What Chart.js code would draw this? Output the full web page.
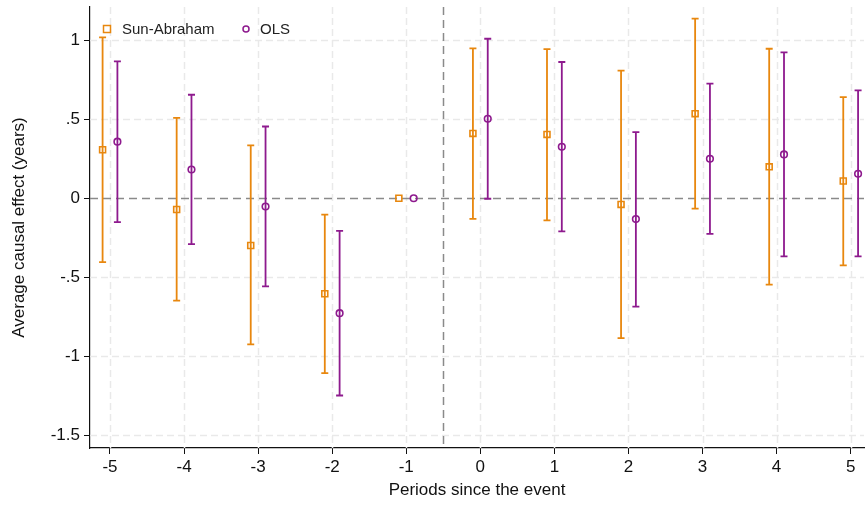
<!DOCTYPE html>
<html>
<head>
<meta charset="utf-8">
<script src="https://cdn.jsdelivr.net/npm/chart.js@4.4.0/dist/chart.umd.min.js"></script>
<style>
  html, body { margin: 0; padding: 0; background: #ffffff; }
  #wrap { width: 865px; height: 506px; }
</style>
</head>
<body>
<div id="wrap"><canvas id="c" width="865" height="506"></canvas></div>
<script>
const periods = [-5, -4, -3, -2, -1, 0, 1, 2, 3, 4, 5];
const saEst = [0.307, -0.071, -0.299, -0.604, 0, 0.410, 0.404, -0.039, 0.535, 0.199, 0.109];
const saLo  = [-0.404, -0.647, -0.925, -1.106, null, -0.130, -0.140, -0.885, -0.066, -0.547, -0.425];
const saHi  = [1.018, 0.509, 0.334, -0.104, null, 0.948, 0.944, 0.807, 1.136, 0.946, 0.640];
const olsEst = [0.358, 0.182, -0.052, -0.727, 0, 0.503, 0.326, -0.132, 0.250, 0.277, 0.155];
const olsLo  = [-0.151, -0.290, -0.558, -1.248, null, -0.003, -0.210, -0.685, -0.225, -0.368, -0.368];
const olsHi  = [0.866, 0.655, 0.454, -0.206, null, 1.009, 0.862, 0.419, 0.725, 0.923, 0.682];
const xTicks = [-5, -4, -3, -2, -1, 0, 1, 2, 3, 4, 5];
const yTicks = [-1.5, -1, -0.5, 0, 0.5, 1];
const yTickLabels = ['-1.5', '-1', '-.5', '0', '.5', '1'];
const seriesNames = ['Sun-Abraham', 'OLS'];
const shift = 0.1;
const eventLine = -0.5;

const ORANGE = '#e8870e';
const PURPLE = '#8e1a8e';
const FONT = '"Liberation Sans", Arial, sans-serif';

function pts(est, lo, hi, dx) {
  return periods.map((p, i) => ({ x: p + dx, y: est[i], lo: lo[i], hi: hi[i] }));
}

function noPad(s) {
  s.paddingLeft = 0; s.paddingRight = 0; s.paddingTop = 0; s.paddingBottom = 0;
}

const gridPlugin = {
  id: 'gridPlugin',
  beforeDatasetsDraw(chart) {
    const { ctx, chartArea: a, scales: { x, y } } = chart;
    ctx.save();
    ctx.beginPath();
    ctx.rect(a.left, a.top, a.right - a.left, a.bottom - a.top);
    ctx.clip();
    ctx.strokeStyle = '#e9e9e9';
    ctx.lineWidth = 1.5;
    ctx.setLineDash([7, 4]);
    xTicks.forEach(v => {
      const px = Math.round(x.getPixelForValue(v)) + 0.5;
      ctx.beginPath(); ctx.moveTo(px, a.top); ctx.lineTo(px, a.bottom); ctx.stroke();
    });
    yTicks.forEach(v => {
      if (v === 0) return;
      const py = Math.round(y.getPixelForValue(v)) + 0.5;
      ctx.beginPath(); ctx.moveTo(a.left, py); ctx.lineTo(a.right, py); ctx.stroke();
    });
    ctx.strokeStyle = '#8a8a8a';
    ctx.lineWidth = 1.5;
    ctx.setLineDash([8, 5]);
    const y0 = Math.round(y.getPixelForValue(0)) + 0.5;
    ctx.beginPath(); ctx.moveTo(a.left, y0); ctx.lineTo(a.right, y0); ctx.stroke();
    const xe = Math.round(x.getPixelForValue(eventLine)) + 0.5;
    ctx.beginPath(); ctx.moveTo(xe, a.top); ctx.lineTo(xe, a.bottom); ctx.stroke();
    ctx.setLineDash([]);
    chart.data.datasets.forEach(ds => {
      ctx.strokeStyle = ds.borderColor;
      ctx.lineWidth = 1.8;
      ds.data.forEach(d => {
        if (d.lo === null || d.hi === null) return;
        const px = x.getPixelForValue(d.x);
        const pl = y.getPixelForValue(d.lo);
        const ph = y.getPixelForValue(d.hi);
        ctx.beginPath();
        ctx.moveTo(px, pl); ctx.lineTo(px, ph);
        ctx.moveTo(px - 3.5, pl); ctx.lineTo(px + 3.5, pl);
        ctx.moveTo(px - 3.5, ph); ctx.lineTo(px + 3.5, ph);
        ctx.stroke();
      });
    });
    ctx.restore();
  },
  afterDraw(chart) {
    const { ctx, chartArea: a } = chart;
    ctx.save();
    const ly = a.top + 22;
    ctx.strokeStyle = ORANGE; ctx.lineWidth = 1.5;
    ctx.strokeRect(a.left + 17 - 3.5, ly - 3.5, 7, 7);
    ctx.fillStyle = '#222';
    ctx.font = '15px ' + FONT;
    ctx.textBaseline = 'middle';
    ctx.fillText(seriesNames[0], a.left + 32, ly + 1);
    ctx.strokeStyle = PURPLE;
    ctx.beginPath(); ctx.arc(a.left + 156, ly, 3, 0, Math.PI * 2); ctx.stroke();
    ctx.fillText(seriesNames[1], a.left + 170, ly + 1);
    ctx.restore();
  }
};

new Chart(document.getElementById('c'), {
  type: 'scatter',
  data: {
    datasets: [
      {
        label: seriesNames[0],
        data: pts(saEst, saLo, saHi, -shift),
        borderColor: ORANGE,
        backgroundColor: 'rgba(0,0,0,0)',
        pointStyle: 'rect',
        pointRadius: 4.2,
        pointBorderWidth: 1.6,
        pointHoverRadius: 4.2,
        clip: false
      },
      {
        label: seriesNames[1],
        data: pts(olsEst, olsLo, olsHi, shift),
        borderColor: PURPLE,
        backgroundColor: 'rgba(0,0,0,0)',
        pointStyle: 'circle',
        pointRadius: 3.3,
        pointBorderWidth: 1.6,
        pointHoverRadius: 3.3,
        clip: false
      }
    ]
  },
  options: {
    responsive: false,
    animation: false,
    events: [],
    layout: { autoPadding: false, padding: { top: 7, right: 1, left: 0, bottom: 0 } },
    plugins: { legend: { display: false }, tooltip: { enabled: false } },
    scales: {
      x: {
        type: 'linear',
        min: -5.27, max: 5.18,
        afterBuildTicks: s => { s.ticks = xTicks.map(v => ({ value: v })); },
        afterFit: s => { s.height = 58; noPad(s); },
        ticks: { color: '#111', font: { family: FONT, size: 17 }, padding: 3, maxRotation: 0, autoSkip: false },
        grid: { display: true, drawOnChartArea: false, drawTicks: true, tickLength: 6, tickColor: '#111', tickWidth: 1 },
        border: { display: true, color: '#111', width: 1.2 },
        title: { display: true, text: 'Periods since the event', color: '#111', font: { family: FONT, size: 17 }, padding: { top: 0, bottom: 5 } }
      },
      y: {
        type: 'linear',
        min: -1.58, max: 1.21,
        afterBuildTicks: s => { s.ticks = yTicks.map(v => ({ value: v })); },
        afterFit: s => { s.width = 90; noPad(s); },
        ticks: {
          color: '#111', font: { family: FONT, size: 17 }, padding: 4, autoSkip: false,
          callback: v => { const i = yTicks.indexOf(v); return i >= 0 ? yTickLabels[i] : ''; }
        },
        grid: { display: true, drawOnChartArea: false, drawTicks: true, tickLength: 6, tickColor: '#111', tickWidth: 1 },
        border: { display: true, color: '#111', width: 1.2 },
        title: { display: true, text: 'Average causal effect (years)', color: '#111', font: { family: FONT, size: 17 }, padding: { top: 9, bottom: 0 } }
      }
    }
  },
  plugins: [gridPlugin]
});
</script>
</body>
</html>
